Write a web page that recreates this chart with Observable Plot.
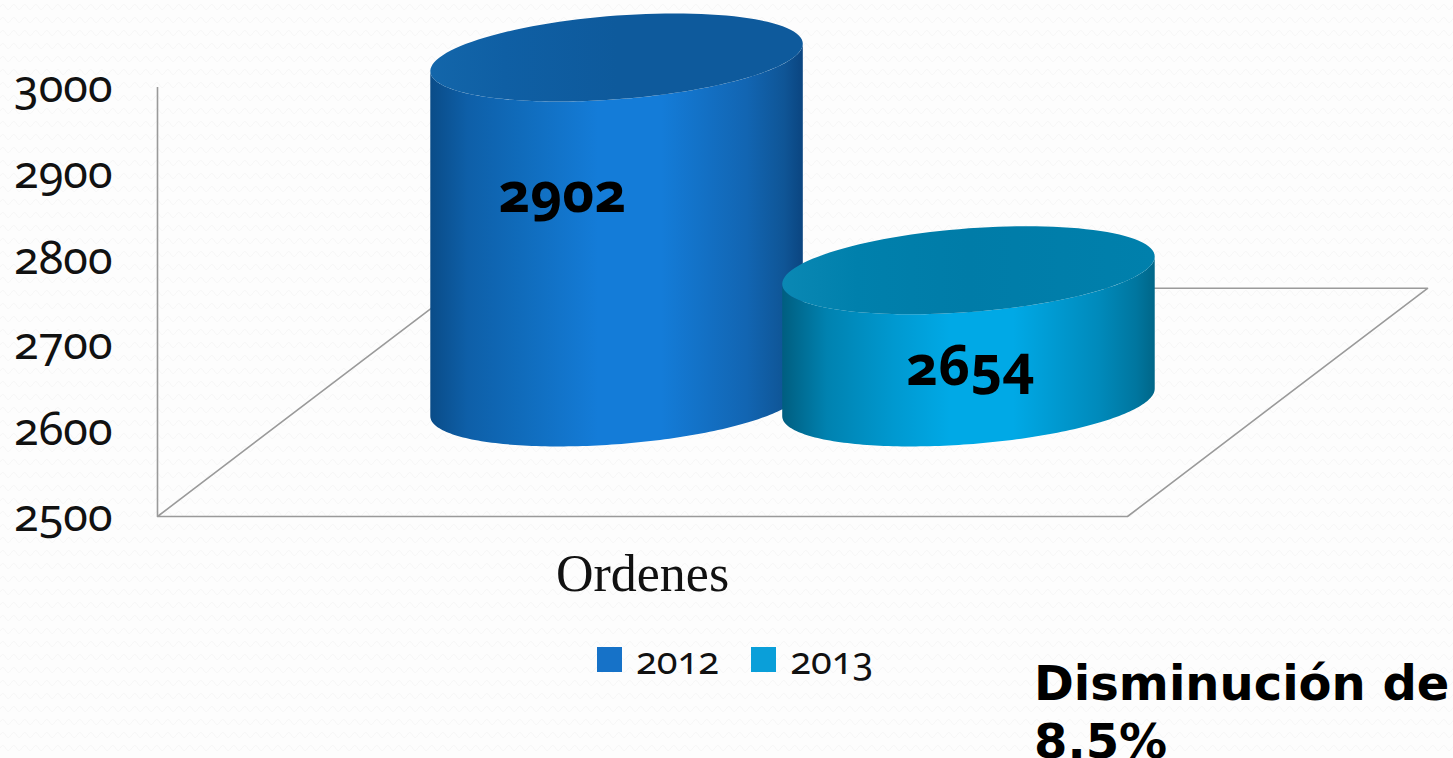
<!DOCTYPE html>
<html lang="es"><head><meta charset="utf-8">
<script src="https://cdn.jsdelivr.net/npm/d3@7"></script>
<script src="https://cdn.jsdelivr.net/npm/@observablehq/plot@0.6"></script>
<style>
html,body{margin:0;padding:0;width:1453px;height:758px;overflow:hidden;background-color:#fdfdfd;
background-image:url("data:image/svg+xml,%3Csvg xmlns='http://www.w3.org/2000/svg' width='11' height='13'%3E%3Cpath d='M0 7 Q2.75 2 5.5 7 T11 7' fill='none' stroke='%23f6f6f6' stroke-width='1'/%3E%3C/svg%3E");}
#page{position:relative;width:1453px;height:758px;}
#legend{position:absolute;left:597px;top:633px;display:flex;align-items:center;font:38px "Noto Sans",sans-serif;font-variant-numeric:oldstyle-nums;color:#111;}
#legend i{display:inline-block;width:25px;height:25px;margin-right:14px;margin-top:1px;}
#legend span{margin-right:32px;}
#note{position:absolute;left:1034px;top:654px;width:419px;font:bold 48px/58px "DejaVu Sans",sans-serif;color:#000;}
svg text{font-variant-numeric:oldstyle-nums;}
</style></head><body><div id="page"></div>
<script>
const years = ["2012","2013"];
const orders = [2902,2654];
const yearPositions = [0.3186,0.6814];
const axisTicks = [2500,2600,2700,2800,2900,3000];
const colors = ["#1672c8","#0a9fd9"];
const categoryLabel = "Ordenes";
const noteText = "Disminución de 8.5%";

// oblique projection of the floor depth on to the x and value scales
const shearX = 0.3093, shearV = 266, midDepth = 0.5, radiusX = 0.1825, radiusD = 0.193;
const proj = (u,d,v) => ({x:u+d*shearX, y:v+d*shearV});
const t0 = Math.atan2(radiusD*shearX, radiusX);
const disc = (u,v,from,to,n=120) => d3.range(n+1).map(i=>{
  const t = from+(to-from)*i/n;
  return proj(u+radiusX*Math.cos(t), midDepth+radiusD*Math.sin(t), v);
});
const cylinders = years.map((year,i)=>({year,value:orders[i],u:yearPositions[i],
  cap:disc(yearPositions[i],orders[i],0,2*Math.PI),
  body:[...disc(yearPositions[i],2500,t0,t0-Math.PI),...disc(yearPositions[i],orders[i],t0-Math.PI,t0)]}));

const floor = [[0,0],[1,0],[1,1],[0,1],[0,0]].map(([u,d])=>proj(u,d,2500));
const defsMark = () => {
  const svg = d3.create("svg:g");
  const defs = svg.append("defs");
  const grad=(id,st)=>{const g=defs.append("linearGradient").attr("id",id);st.forEach(([o,c])=>g.append("stop").attr("offset",o).attr("stop-color",c));};
  grad("body0",[[0,"#0a4c88"],[.1,"#0e5fa8"],[.25,"#106cbc"],[.45,"#147cd8"],[.62,"#147cd8"],[.85,"#1265b2"],[.95,"#0f5596"],[1,"#0b4580"]]);
  grad("body1",[[0,"#005e80"],[.12,"#0082b0"],[.3,"#0099d0"],[.45,"#00a9e6"],[.62,"#00a9e6"],[.85,"#008abb"],[.95,"#00769f"],[1,"#006688"]]);
  grad("cap0",[[0,"#1366aa"],[.2,"#0f5fa4"],[.5,"#0e5a9c"],[1,"#0e5a9c"]]);
  grad("cap1",[[0,"#0a88b4"],[.2,"#0080ac"],[.5,"#007ca8"],[1,"#0080ac"]]);
  return svg.node();
};
const fontDigits = '"Noto Sans",sans-serif';
const plot = Plot.plot({
  width:1453,height:635,marginLeft:157,marginRight:326,marginTop:87,marginBottom:119,
  style:{background:"transparent",fontFamily:fontDigits,overflow:"visible"},
  x:{domain:[0,1],axis:null,label:null},
  y:{domain:[2500,3000],axis:null,label:null},
  marks:[
    defsMark,
    Plot.line(floor,{x:"x",y:"y",stroke:"#9a9a9a",strokeWidth:1.6}),
    Plot.ruleX([0],{y1:2500,y2:3000,stroke:"#9a9a9a",strokeWidth:1.6}),
    Plot.axisY(axisTicks,{anchor:"left",label:null,tickSize:0,tickPadding:45,fontSize:45,tickFormat:d=>String(d),fill:"#111"}),
    Plot.axisX([0.5],{anchor:"bottom",label:null,tickSize:0,tickPadding:38,fontSize:52,fontFamily:'"Liberation Serif",serif',tickFormat:()=>categoryLabel,fill:"#111"}),
    ...cylinders.flatMap((c,i)=>[
      Plot.line(c.body,{x:"x",y:"y",fill:`url(#body${i})`,stroke:"none"}),
      Plot.line(c.cap,{x:"x",y:"y",fill:`url(#cap${i})`,stroke:"none"})
    ]),
    Plot.text([cylinders[0]],{x:d=>proj(d.u,midDepth,d.value).x,y:d=>proj(d.u,midDepth,d.value).y,text:d=>String(d.value),dx:-54,dy:137,fontSize:55,fontWeight:"bold",fill:"#000"}),
    Plot.text([cylinders[1]],{x:d=>proj(d.u,midDepth,d.value).x,y:d=>proj(d.u,midDepth,d.value).y,text:d=>String(d.value),dx:2,dy:97,fontSize:55,fontWeight:"bold",fill:"#000"})
  ]
});
const page=document.getElementById("page");
plot.style.position="absolute";plot.style.left="0";plot.style.top="0";plot.style.background="transparent";
page.append(plot);
const legend=document.createElement("div");legend.id="legend";
years.forEach((y,i)=>{const sw=document.createElement("i");sw.style.background=colors[i];const s=document.createElement("span");s.textContent=y;legend.append(sw,s);});
page.append(legend);
const note=document.createElement("div");note.id="note";note.textContent=noteText;page.append(note);
</script></body></html>
